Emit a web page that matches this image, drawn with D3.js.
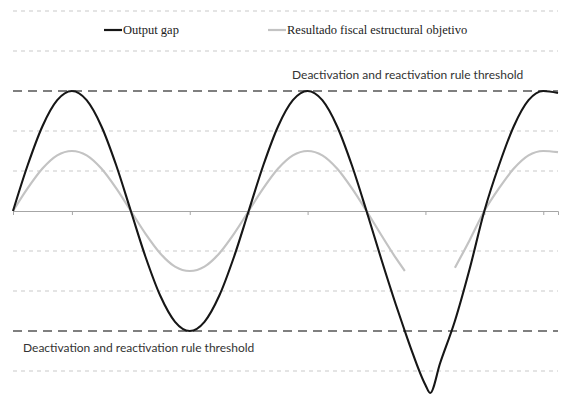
<!DOCTYPE html>
<html>
<head>
<meta charset="utf-8">
<script src="https://cdn.jsdelivr.net/npm/d3@7"></script>
<style>
  body { margin: 0; background: #fff; }
  svg { display: block; }
</style>
</head>
<body>
<svg id="chart" width="572" height="409"></svg>
<script>
// periods along the x axis (one tick = a quarter of a cycle)
var periods = [0, 0.25, 0.5, 0.75, 1, 1.25, 1.5, 1.75, 2, 2.25, 2.5, 2.75, 3, 3.25, 3.5, 3.75,
               4, 4.25, 4.5, 4.75, 5, 5.25, 5.5, 5.75, 6, 6.25, 6.5, 6.65, 6.75, 7, 7.08, 7.25,
               7.5, 7.75, 8, 8.25, 8.5, 8.75, 9, 9.25];

var outputGap = [0, 1.15, 2.12, 2.77, 3, 2.77, 2.12, 1.15, 0, -1.15, -2.12, -2.77, -3, -2.77, -2.12, -1.15,
                 0, 1.15, 2.12, 2.77, 3, 2.77, 2.12, 1.15, 0, -1.2, -2.35, -3, -3.42, -4.35, -4.55, -3.8,
                 -2.75, -1.45, 0, 1.15, 2.12, 2.77, 3, 2.95];

var fiscalTarget = [0, 0.57, 1.06, 1.39, 1.5, 1.39, 1.06, 0.57, 0, -0.57, -1.06, -1.39, -1.5, -1.39, -1.06, -0.57,
                    0, 0.57, 1.06, 1.39, 1.5, 1.39, 1.06, 0.57, 0, -0.6, -1.18, -1.5, null, null, null, null,
                    -1.42, -0.73, 0, 0.57, 1.06, 1.39, 1.5, 1.47];

var xTicks = [0, 1, 2, 3, 4, 5, 6, 7, 8, 9];
var gridValues = [5, 4, 2, 1, -1, -2, -4];
var thresholds = [3, -3];
var seriesNames = ["Output gap", "Resultado fiscal estructural objetivo"];
var thresholdLabel = "Deactivation and reactivation rule threshold";

var svg = d3.select("#chart");

var x = d3.scaleLinear().domain([0, 9.25]).range([13, 558]);
var y = d3.scaleLinear().domain([-5, 5]).range([411, 11]);

// light dashed gridlines
svg.selectAll(".grid")
    .data(gridValues)
  .enter().append("line")
    .attr("class", "grid")
    .attr("x1", x(0)).attr("x2", x(9.25))
    .attr("y1", function(d){ return y(d); })
    .attr("y2", function(d){ return y(d); })
    .style("stroke", "#c9c9c9")
    .style("stroke-width", 1)
    .style("stroke-dasharray", "4,4");

// x axis at zero
var axis = svg.append("g")
    .attr("transform", "translate(0," + y(0) + ")")
    .call(d3.axisBottom(x).tickValues(xTicks).tickSize(4).tickFormat(""));
axis.select(".domain").style("stroke", "#a6a6a6");
axis.selectAll(".tick line").style("stroke", "#a6a6a6");

// threshold lines
svg.selectAll(".threshold")
    .data(thresholds)
  .enter().append("line")
    .attr("class", "threshold")
    .attr("x1", x(0)).attr("x2", x(9.25))
    .attr("y1", function(d){ return y(d); })
    .attr("y2", function(d){ return y(d); })
    .style("stroke", "#7f7f7f")
    .style("stroke-width", 2)
    .style("stroke-dasharray", "9,6");

var line = d3.line()
    .defined(function(d){ return d[1] != null; })
    .x(function(d){ return x(d[0]); })
    .y(function(d){ return y(d[1]); })
    .curve(d3.curveMonotoneX);

svg.append("path")
    .datum(periods.map(function(p, i){ return [p, fiscalTarget[i]]; }))
    .attr("d", line)
    .style("fill", "none")
    .style("stroke", "#c3c3c3")
    .style("stroke-width", 2.2);

svg.append("path")
    .datum(periods.map(function(p, i){ return [p, outputGap[i]]; }))
    .attr("d", line)
    .style("fill", "none")
    .style("stroke", "#161616")
    .style("stroke-width", 2.1);

// threshold labels
svg.append("text")
    .attr("x", 292).attr("y", 79)
    .style("font-family", "Lato, 'Liberation Sans', sans-serif")
    .style("font-size", "12px")
    .style("fill", "#333")
    .text(thresholdLabel);
svg.append("text")
    .attr("x", 23).attr("y", 352)
    .style("font-family", "Lato, 'Liberation Sans', sans-serif")
    .style("font-size", "12px")
    .style("fill", "#333")
    .text(thresholdLabel);

// legend
var legend = svg.append("g").attr("id", "legend");
var legendX = [104, 268];
var legendColors = ["#161616", "#c3c3c3"];
seriesNames.forEach(function(name, i){
  legend.append("line")
    .attr("x1", legendX[i]).attr("x2", legendX[i] + 18)
    .attr("y1", 30).attr("y2", 30)
    .style("stroke", legendColors[i])
    .style("stroke-width", 2.2);
  legend.append("text")
    .attr("x", legendX[i] + 19).attr("y", 34)
    .style("font-family", "'Liberation Serif', 'Times New Roman', serif")
    .style("font-size", "12.5px")
    .style("fill", "#222")
    .text(name);
});
</script>
</body>
</html>
